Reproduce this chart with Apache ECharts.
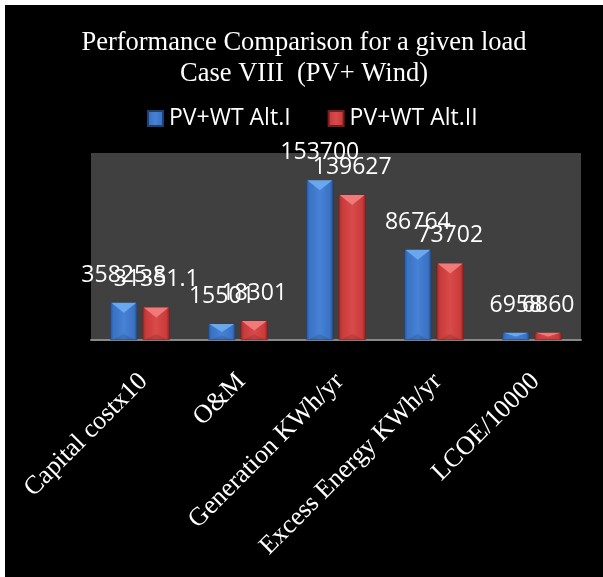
<!DOCTYPE html>
<html>
<head>
<meta charset="utf-8">
<script src="https://cdn.jsdelivr.net/npm/echarts@6/dist/echarts.min.js"></script>
<style>
  html, body { margin: 0; padding: 0; background: #ffffff; }
  #chart { position: absolute; left: 5px; top: 5px; width: 598px; height: 572px; }
</style>
</head>
<body>
<div id="chart"></div>
<script>
// Categories and values for the two PV + wind alternatives
const categories = ['Capital costx10', 'O&M', 'Generation KWh/yr', 'Excess Energy KWh/yr', 'LCOE/10000'];
const altOne = [35825.8, 15501, 153700, 86764, 6958];
const altTwo = [31351.1, 18301, 139627, 73702, 6860];
const seriesNames = ['PV+WT Alt.I', 'PV+WT Alt.II'];

const BAR_W = 27;
const HALF_OFFSET = 16.2;

function barGradient(edge, mid, centre, edgeDark) {
  return new echarts.graphic.LinearGradient(0, 0, 1, 0, [
    { offset: 0, color: edgeDark },
    { offset: 0.12, color: mid },
    { offset: 0.5, color: centre },
    { offset: 0.88, color: mid },
    { offset: 1, color: edge }
  ]);
}

const blueFill = barGradient('#234d8a', '#3a72c4', '#4782d6', '#2a5aa0');
const redFill = barGradient('#8f2222', '#c93a3a', '#d94a4a', '#a52a2a');

const labelStyle = {
  show: true,
  position: 'top',
  distance: 16,
  color: '#ffffff',
  fontFamily: 'Open Sans',
  fontSize: 23
};

// Bevelled top facet drawn over each bar
function bevelSeries(values, side, facetColor) {
  return {
    type: 'custom',
    silent: true,
    z: 5,
    data: values.map((v, i) => [i, v]),
    renderItem: function (params, api) {
      const top = api.coord([api.value(0), api.value(1)]);
      const base = api.coord([api.value(0), 0]);
      const cx = top[0] + side * HALF_OFFSET;
      const h = base[1] - top[1];
      const depth = Math.min(10, h * 0.5);
      const x0 = cx - BAR_W / 2, x1 = cx + BAR_W / 2;
      return {
        type: 'group',
        children: [
          {
            type: 'polygon',
            shape: { points: [[x0 + 1, top[1]], [x1 - 1, top[1]], [cx, top[1] + depth]] },
            style: { fill: facetColor }
          },
          {
            type: 'polygon',
            shape: { points: [[x0 + 2, base[1]], [x1 - 2, base[1]], [cx, base[1] - Math.min(6, h * 0.3)]] },
            style: { fill: 'rgba(0,0,0,0.12)' }
          }
        ]
      };
    }
  };
}

const chart = echarts.init(document.getElementById('chart'), null, { renderer: 'canvas' });

chart.setOption({
  backgroundColor: '#000000',
  animation: false,
  title: {
    text: 'Performance Comparison for a given load\nCase VIII  (PV+ Wind)',
    left: 'center',
    top: 18,
    textStyle: {
      color: '#ffffff',
      fontFamily: 'Liberation Serif',
      fontWeight: 'normal',
      fontSize: 26.5,
      lineHeight: 31
    }
  },
  legend: {
    data: seriesNames,
    left: 137,
    top: 97,
    itemWidth: 15,
    itemHeight: 15,
    itemGap: 37,
    icon: 'rect',
    textStyle: {
      color: '#ffffff',
      fontFamily: 'Open Sans',
      fontSize: 23,
      lineHeight: 23,
      padding: [0, 0, 0, 1]
    }
  },
  grid: {
    left: 86,
    right: 22,
    top: 148,
    bottom: 237,
    show: true,
    backgroundColor: '#404040',
    borderWidth: 0
  },
  xAxis: {
    type: 'category',
    data: categories,
    axisLine: { lineStyle: { color: '#888888', width: 2 } },
    axisTick: { show: false },
    axisLabel: {
      rotate: 45,
      interval: 0,
      margin: 34,
      verticalAlign: 'top',
      lineHeight: 10,
      color: '#ffffff',
      fontFamily: 'Liberation Serif',
      fontSize: 26
    }
  },
  yAxis: {
    type: 'value',
    min: 0,
    max: 180000,
    show: false,
    splitLine: { show: false }
  },
  series: [
    {
      name: seriesNames[0],
      type: 'bar',
      data: altOne,
      barWidth: BAR_W,
      barGap: '20%',
      itemStyle: { color: blueFill, borderColor: '#1d3f72', borderWidth: 0.5 },
      label: labelStyle,
      z: 3
    },
    {
      name: seriesNames[1],
      type: 'bar',
      data: altTwo,
      barWidth: BAR_W,
      barGap: '20%',
      itemStyle: { color: redFill, borderColor: '#7a1c1c', borderWidth: 0.5 },
      label: labelStyle,
      z: 3
    },
    bevelSeries(altOne, -1, '#6aa8ee'),
    bevelSeries(altTwo, 1, '#f07a7a')
  ]
});
</script>
</body>
</html>
